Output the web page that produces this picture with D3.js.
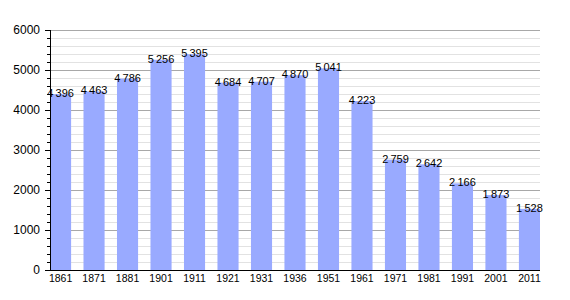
<!DOCTYPE html>
<html>
<head>
<meta charset="utf-8">
<script src="https://cdn.jsdelivr.net/npm/d3@7"></script>
<style>
  body { margin: 0; background: #fff; }
  text { font-family: "Liberation Sans", Arial, sans-serif; }
</style>
</head>
<body>
<div id="chart"></div>
<script>
// census years and population
var years = ['1861', '1871', '1881', '1901', '1911', '1921', '1931', '1936', '1951', '1961', '1971', '1981', '1991', '2001', '2011'];
var population = [4396, 4463, 4786, 5256, 5395, 4684, 4707, 4870, 5041, 4223, 2759, 2642, 2166, 1873, 1528];
var yTicks = [0, 1000, 2000, 3000, 4000, 5000, 6000];

var svgWidth = 570;
var svgHeight = 300;
var margin = { top: 30, right: 30, bottom: 30, left: 50 };
var width = svgWidth - margin.left - margin.right;
var height = svgHeight - margin.top - margin.bottom;

var svg = d3.select('#chart')
    .append('svg')
    .attr('width', svgWidth)
    .attr('height', svgHeight);

var chartGroup = svg.append('g')
    .attr('transform', `translate(${margin.left}, ${margin.top})`);

var xScale = d3.scaleBand()
    .domain(years)
    .range([0, width])
    .paddingInner(0.37)
    .paddingOuter(0);

var yScale = d3.scaleLinear()
    .domain([0, 6000])
    .range([height, 0]);

// minor grid every 200
var minor = d3.range(200, 6001, 200).filter(d => d % 1000 !== 0);
chartGroup.selectAll('.minor')
    .data(minor)
    .enter()
    .append('line')
    .attr('x1', 0)
    .attr('x2', width)
    .attr('y1', d => Math.round(yScale(d)) + 0.5)
    .attr('y2', d => Math.round(yScale(d)) + 0.5)
    .attr('stroke', '#e2e2e2')
    .attr('stroke-width', 1);

chartGroup.selectAll('.major')
    .data(yTicks.slice(1))
    .enter()
    .append('line')
    .attr('x1', 0)
    .attr('x2', width)
    .attr('y1', d => Math.round(yScale(d)) + 0.5)
    .attr('y2', d => Math.round(yScale(d)) + 0.5)
    .attr('stroke', '#a8a8a8')
    .attr('stroke-width', 1);

// bars
chartGroup.selectAll('rect')
    .data(population)
    .enter()
    .append('rect')
    .attr('x', (d, i) => xScale(years[i]))
    .attr('y', d => yScale(d))
    .attr('width', xScale.bandwidth())
    .attr('height', d => height - yScale(d))
    .attr('fill', '#99aaff');

// value labels
var fmt = d3.formatLocale({ thousands: '\u2009', grouping: [3], decimal: ',', currency: ['', ''] }).format(',');
chartGroup.selectAll('.val')
    .data(population)
    .enter()
    .append('text')
    .attr('x', (d, i) => xScale(years[i]) + xScale.bandwidth() / 2)
    .attr('y', d => yScale(d) + 3)
    .attr('text-anchor', 'middle')
    .attr('font-size', '11px')
    .attr('fill', '#000')
    .text(d => fmt(d));

// y axis with minor ticks
var leftAxis = d3.axisLeft(yScale)
    .tickValues(yTicks)
    .tickSize(5)
    .tickPadding(5)
    .tickFormat(d3.format('d'));

var yAxis = chartGroup.append('g').call(leftAxis);
yAxis.select('.domain').remove();
yAxis.selectAll('text').attr('font-size', '12px').attr('font-family', '"Liberation Sans", Arial, sans-serif');

chartGroup.selectAll('.minortick')
    .data(minor)
    .enter()
    .append('line')
    .attr('x1', -3)
    .attr('x2', 0)
    .attr('y1', d => Math.round(yScale(d)) + 0.5)
    .attr('y2', d => Math.round(yScale(d)) + 0.5)
    .attr('stroke', '#000');

chartGroup.append('line')
    .attr('x1', 0.5).attr('x2', 0.5)
    .attr('y1', 0).attr('y2', height)
    .attr('stroke', '#000');

// x axis
var bottomAxis = d3.axisBottom(xScale).tickSize(0).tickPadding(5);
var xAxis = chartGroup.append('g')
    .attr('transform', `translate(0, ${height})`)
    .call(bottomAxis);
xAxis.select('.domain').remove();
xAxis.selectAll('text').attr('font-size', '10.5px').attr('font-family', '"Liberation Sans", Arial, sans-serif');

chartGroup.append('line')
    .attr('x1', 0).attr('x2', width)
    .attr('y1', height + 0.5).attr('y2', height + 0.5)
    .attr('stroke', '#000');
</script>
</body>
</html>
